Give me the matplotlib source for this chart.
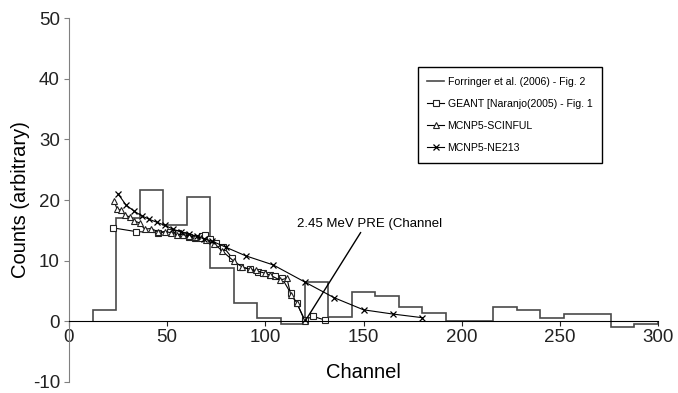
import matplotlib
matplotlib.use("Agg")
import matplotlib.pyplot as plt
import numpy as np

plt.rcParams['font.family'] = ['Liberation Sans', 'DejaVu Sans']
plt.rcParams['axes.unicode_minus'] = False

# Forringer histogram (bin edges and heights)
hist_edges = [12, 24, 36, 48, 60, 72, 84, 96, 108, 120, 132, 144, 156, 168, 180,
              192, 204, 216, 228, 240, 252, 264, 276, 288, 300]
hist_vals = [1.8, 17.0, 21.7, 15.9, 20.5, 8.8, 3.1, 0.5, -0.4, 6.5, 0.65, 4.8,
             4.1, 2.4, 1.3, 0.0, 0.0, 2.4, 1.8, 0.6, 1.25, 1.25, -1.0, -0.4]

# GEANT
geant_ch = [22.5, 34, 45.5, 51.5, 55.5, 58, 61, 64, 67.5, 69.5, 72, 75, 78.5, 83,
            87, 92, 96.5, 99, 102.5, 105, 108.5, 113, 116, 120, 124.5, 130.5]
geant_val = [15.4, 14.8, 14.6, 14.8, 14.5, 14.3, 13.9, 13.7, 14.1, 14.3, 13.5, 12.9,
             12.3, 10.5, 9.0, 8.6, 8.1, 7.9, 7.6, 7.4, 7.1, 4.6, 3.0, 0.3, 0.8, 0.2]

# MCNP5-SCINFUL
scin_ch = [23, 24.5, 26.5, 28.5, 31, 33, 36, 38.5, 42, 45.5, 49, 52, 55, 58, 61, 64,
           67, 70, 74, 78, 84, 88, 92, 95, 100, 102.5, 107.5, 111, 113, 116, 120]
scin_val = [19.8, 18.5, 18.3, 17.5, 17.2, 16.6, 16.2, 15.2, 15.3, 14.7, 14.8, 14.6,
            14.3, 14.3, 14.1, 13.9, 13.8, 13.4, 12.8, 11.6, 9.9, 9.0, 8.6, 8.4, 7.9,
            7.6, 6.8, 7.1, 4.3, 3.1, 0.1]

# MCNP5-NE213
ne_ch = [25, 29, 33, 37, 41, 45, 49, 53, 57, 61, 65, 69, 73, 80, 90, 104, 120, 135,
         150, 165, 180]
ne_val = [21.0, 19.2, 18.2, 17.4, 16.8, 16.3, 15.8, 15.2, 14.7, 14.4, 14.0, 13.6,
          13.2, 12.2, 10.8, 9.3, 6.5, 3.9, 1.9, 1.2, 0.6]

x_ticks = [0, 50, 100, 150, 200, 250, 300]
y_ticks = [-10, 0, 10, 20, 30, 40, 50]

fig = plt.figure(figsize=(6.78, 3.93), dpi=100)
ax = fig.add_axes([69/678, 11/393, 589/678, 364/393])

ax.stairs(hist_vals, hist_edges, color='#4a4a4a', linewidth=1.2,
          label='Forringer et al. (2006) - Fig. 2')
ax.plot(geant_ch, geant_val, color='black', linewidth=0.8, marker='s', markersize=4.5,
        markerfacecolor='white', markeredgecolor='#222222', markeredgewidth=0.8,
        label='GEANT [Naranjo(2005) - Fig. 1')
ax.plot(scin_ch, scin_val, color='black', linewidth=0.8, marker='^', markersize=4.5,
        markerfacecolor='white', markeredgecolor='#222222', markeredgewidth=0.8,
        label='MCNP5-SCINFUL')
ax.plot(ne_ch, ne_val, color='black', linewidth=0.8, marker='x', markersize=5,
        markeredgewidth=0.9, label='MCNP5-NE213')

ax.set_xlim(0, 300)
ax.set_ylim(-10, 50)
ax.set_xticks(x_ticks)
ax.set_yticks(y_ticks)
ax.spines['top'].set_visible(False)
ax.spines['right'].set_visible(False)
ax.spines['bottom'].set_position(('data', 0))
ax.spines['bottom'].set_color('black')
ax.spines['left'].set_color('#808080')
ax.tick_params(axis='both', labelsize=13.5, colors='#222222', length=3.5, width=0.8)
ax.tick_params(axis='x', pad=2)
ax.tick_params(axis='y', color='#808080', pad=3)
ax.set_xlabel('Channel', fontsize=14.5, labelpad=12)
ax.set_ylabel('Counts (arbitrary)', fontsize=14.5, labelpad=2)

ax.annotate('2.45 MeV PRE (Channel', xy=(120.2, 0), xytext=(116.2, 16.1),
            fontsize=9.5, va='center', ha='left',
            arrowprops=dict(arrowstyle='-', color='black', lw=1.0,
                            shrinkA=0, shrinkB=0, relpos=(0.45, 0)))

leg = ax.legend(loc='upper left', bbox_to_anchor=(0.5925, 0.865), fontsize=7.6,
                frameon=True, fancybox=False, edgecolor='black', framealpha=1,
                handlelength=1.6, labelspacing=1.15, borderpad=0.9,
                handletextpad=0.3, borderaxespad=0)
leg.get_frame().set_linewidth(1.0)

fig.savefig('out.png', dpi=100)
